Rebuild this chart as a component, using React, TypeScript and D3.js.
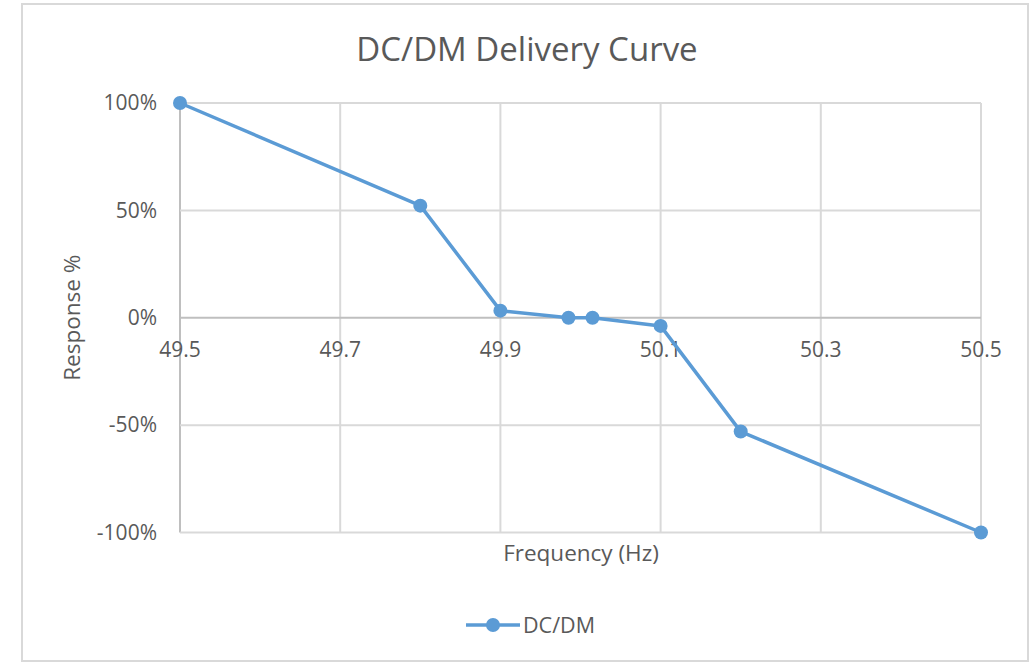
import React from "react";
import * as d3 from "d3";

const frequencies = [49.5, 49.8, 49.9, 49.985, 50.015, 50.1, 50.2, 50.5];
const responses = [100, 52.2, 3.3, 0, 0, -3.8, -53, -100];
const xTicks = [49.5, 49.7, 49.9, 50.1, 50.3, 50.5];
const yTicks = [100, 50, 0, -50, -100];
const seriesName = "DC/DM";

const W = 1030;
const H = 663;
const FONT = "'Open Sans', Lato, sans-serif";
const TXT = "#595959";
const BLUE = "#5b9bd5";

export default function App() {
  const x = d3.scaleLinear().domain([49.5, 50.5]).range([180, 981]);
  const y = d3.scaleLinear().domain([-100, 100]).range([532.5, 103]);
  const pts = frequencies.map((f, i) => [x(f), y(responses[i])] as [number, number]);
  const line = d3.line()(pts) || "";

  return (
    <svg width={W} height={H} style={{ position: "absolute", left: 0, top: 0 }} fontFamily={FONT}>
      <rect x={0} y={0} width={W} height={H} fill="#fff" />
      <rect x={22} y={4} width={1006} height={657} fill="#fff" stroke="#d9d9d9" strokeWidth={2} />
      <text x={527} y={61} textAnchor="middle" fontSize={33} fill={TXT}>DC/DM Delivery Curve</text>
      {xTicks.map((t) => (
        <line key={"gx" + t} x1={x(t)} x2={x(t)} y1={y(100)} y2={y(-100)} stroke={t === 49.5 ? "#bfbfbf" : "#d9d9d9"} strokeWidth={2} />
      ))}
      {yTicks.map((t) => (
        <line key={"gy" + t} x1={x(49.5)} x2={x(50.5)} y1={y(t)} y2={y(t)} stroke={t === 0 ? "#bfbfbf" : "#d9d9d9"} strokeWidth={2} />
      ))}
      {yTicks.map((t) => (
        <text key={"ly" + t} x={157} y={y(t)} dy="0.35em" textAnchor="end" fontSize={21} fill={TXT}>{t + "%"}</text>
      ))}
      {xTicks.map((t) => (
        <text key={"lx" + t} x={x(t)} y={y(0) + 39} textAnchor="middle" fontSize={21} fill={TXT}>{t.toFixed(1)}</text>
      ))}
      <text transform={`translate(80,${y(0)}) rotate(-90)`} textAnchor="middle" fontSize={22.5} fill={TXT}>Response %</text>
      <text x={581} y={561} textAnchor="middle" fontSize={22.5} fill={TXT}>Frequency (Hz)</text>
      <path d={line} fill="none" stroke={BLUE} strokeWidth={3.5} strokeLinejoin="round" />
      {pts.map((p, i) => (
        <circle key={i} cx={p[0]} cy={p[1]} r={7} fill={BLUE} />
      ))}
      <line x1={466} x2={520} y1={625} y2={625} stroke={BLUE} strokeWidth={3.5} />
      <circle cx={493} cy={625} r={7} fill={BLUE} />
      <text x={523} y={625} dy="0.35em" fontSize={21.5} fill={TXT}>{seriesName}</text>
    </svg>
  );
}
